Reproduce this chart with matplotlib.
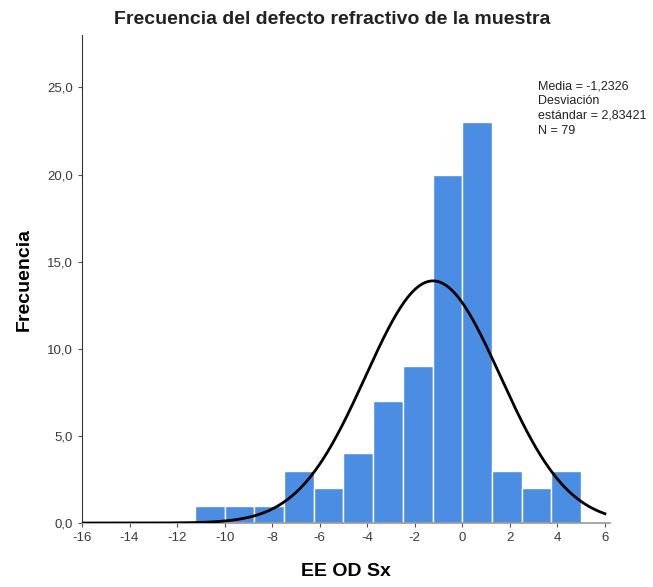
import matplotlib.pyplot as plt
import numpy as np

plt.rcParams['font.family'] = ['Liberation Sans', 'DejaVu Sans']

# histogram of refractive error (13 bins of width 1.25)
bin_edges = np.arange(-11.25, 5.01, 1.25)
counts = [1, 1, 1, 3, 2, 4, 7, 9, 20, 23, 3, 2, 3]

media = -1.2326
desviacion = 2.83421
n = 79

x_ticks = [-16, -14, -12, -10, -8, -6, -4, -2, 0, 2, 4, 6]
y_ticks = [0, 5, 10, 15, 20, 25]

fig = plt.figure(figsize=(6.53, 5.87), dpi=100)
ax = fig.add_axes([0.1256, 0.109, 0.808, 0.831])

width = bin_edges[1] - bin_edges[0]
ax.bar(bin_edges[:-1], counts, width=width, align='edge',
       color='#4a8de3', edgecolor='white', linewidth=1.0, zorder=2)

# normal curve scaled to counts
xs = np.linspace(-16, 6, 400)
pdf = np.exp(-0.5 * ((xs - media) / desviacion) ** 2) / (desviacion * np.sqrt(2 * np.pi))
ax.plot(xs, pdf * n * width, color='black', linewidth=2.0, zorder=3)

ax.set_xlim(-16, 6.2)
ax.set_ylim(0, 28)
ax.set_xticks(x_ticks)
ax.set_xticklabels([str(t) for t in x_ticks], fontsize=9.5, color='#3a3a3a')
ax.set_yticks(y_ticks)
ax.set_yticklabels([f'{t:.1f}'.replace('.', ',') for t in y_ticks], fontsize=9.5, color='#3a3a3a')
ax.tick_params(length=3, width=0.8, color='#555555')

for side in ['top', 'right']:
    ax.spines[side].set_visible(False)
ax.spines['left'].set_color('#333333')
ax.spines['bottom'].set_color('#999999')
ax.spines['bottom'].set_linewidth(1.2)

ax.set_xlabel('EE OD Sx', fontsize=14, fontweight='bold', labelpad=14)
ax.set_ylabel('Frecuencia', fontsize=14, fontweight='bold', labelpad=10)
fig.text(0.508, 0.967, 'Frecuencia del defecto refractivo de la muestra',
         ha='center', va='center', fontsize=14, fontweight='bold', color='#222222')

stats = (f'Media = {media:.4f}'.replace('.', ',') + '\nDesviación\n'
         + f'estándar = {desviacion:.5f}'.replace('.', ',') + f'\nN = {n}')
ax.text(3.18, 25.4, stats, fontsize=9, va='top', ha='left', color='#222222',
        linespacing=1.3)

fig.savefig('out.png', dpi=100)
